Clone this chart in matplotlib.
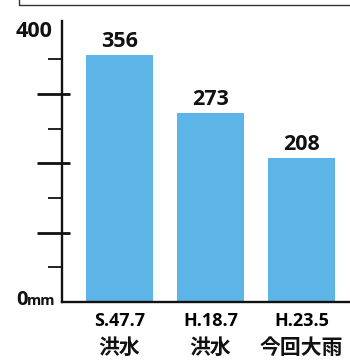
import matplotlib
matplotlib.use("Agg")
import matplotlib.pyplot as plt
from matplotlib.patches import Rectangle
import matplotlib.transforms as mtransforms

# Rainfall totals (mm) for three events
event_dates = ["S.47.7", "H.18.7", "H.23.5"]
event_names = ["洪水", "洪水", "今回大雨"]
rainfall = [356, 273, 208]
major_ticks = [100, 200, 300]
minor_ticks = [50, 150, 250, 350]

bar_color = "#5db4e6"
ink = "#111111"
fonts = ["Open Sans", "Noto Sans CJK JP", "DejaVu Sans"]
cjk_fonts = ["Noto Sans CJK JP", "DejaVu Sans"]

fig = plt.figure(figsize=(3.5, 3.6), dpi=100)
ax = fig.add_axes([62 / 350, 58 / 360, 288 / 350, 281 / 360])

x = list(range(len(rainfall)))
ax.bar(x, rainfall, width=0.736, color=bar_color, zorder=2)
ax.set_xlim(-0.632, 2.533)
ax.set_ylim(0, 405)

for s in ("top", "right"):
    ax.spines[s].set_visible(False)
for s in ("left", "bottom"):
    ax.spines[s].set_linewidth(1.7)
    ax.spines[s].set_color(ink)

ax.set_xticks(x)
ax.set_xticklabels(event_dates, fontfamily=fonts, fontweight="bold", fontsize=13)
ax.tick_params(axis="x", length=0, pad=7)

# second line of each category label
xtrans = mtransforms.blended_transform_factory(ax.transData, ax.transAxes)
for xi, name in zip(x, event_names):
    ax.annotate(name, xy=(xi, 0), xycoords=xtrans, xytext=(0, -33), textcoords="offset points",
                ha="center", va="center", fontsize=15, fontweight="bold",
                family=cjk_fonts, color=ink, annotation_clip=False)

ax.set_yticks(major_ticks)
ax.set_yticks(minor_ticks, minor=True)
ax.set_yticklabels([])
ax.tick_params(axis="y", which="major", direction="out", length=18, width=2.0, color=ink)
ax.tick_params(axis="y", which="minor", direction="out", length=10, width=1.3, color=ink)
# inner stubs on the major ticks
trans = mtransforms.blended_transform_factory(ax.transAxes, ax.transData)
ax.hlines(major_ticks, 0, 8 / 288, transform=trans, color=ink, lw=2.0, clip_on=False, zorder=3)

# axis end labels
ax.annotate("400", xy=(0, 400), xycoords=trans, xytext=(-7, -5), textcoords="offset points",
            ha="right", va="center", fontsize=15.5, fontweight="bold", family=fonts, color=ink)
ax.annotate("0", xy=(0, 0), xycoords=trans, xytext=(-24.5, -2.2), textcoords="offset points",
            ha="right", va="baseline", fontsize=14.5, fontweight="bold", family=fonts, color=ink)
ax.annotate("mm", xy=(0, 0), xycoords=trans, xytext=(-25, -2.2), textcoords="offset points",
            ha="left", va="baseline", fontsize=10.5, fontweight="bold", family=fonts, color=ink)

# value labels
for xi, v in zip(x, rainfall):
    ax.annotate(f"{v}", xy=(xi, v), xytext=(0, 5.5), textcoords="offset points",
                ha="center", va="baseline", fontsize=15.5, fontweight="bold", family=fonts, color=ink)

# frame of the panel above
fig.add_artist(Rectangle((19 / 350, 355 / 360), 1.0, 0.2, transform=fig.transFigure,
                         fill=False, edgecolor="#333333", lw=1.0, clip_on=False))

fig.savefig("out.png", dpi=100)
